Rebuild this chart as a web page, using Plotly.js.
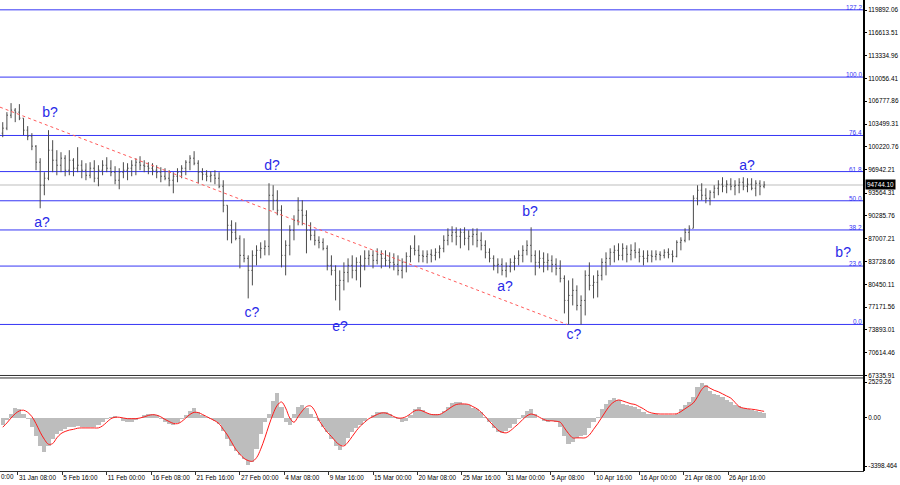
<!DOCTYPE html>
<html>
<head>
<meta charset="utf-8">
<script src="https://cdn.plot.ly/plotly-3.0.1.min.js"></script>
<style>html,body{margin:0;padding:0;background:#fff;}#chart{width:900px;height:485px;}</style>
</head>
<body>
<div id="chart"></div>
<script>
// ---- data (12h bars) ----
const firstBarTime = '2025-01-29T12:00:00Z';
const barStepHours = 12;
const firstOpen = 102180;
const high = [103764,105204,106500,105780,106356,104340,103188,102180,100452,98580,
96564,102612,101172,99732,99444,99012,99732,98580,100164,98292,
97860,98004,98292,97572,98292,98724,98292,97428,97140,98004,
97860,98292,98580,98868,98292,98004,97860,97572,97284,97140,
96852,96564,97140,97572,98292,99012,99588,98292,97140,96852,
96708,96852,96564,95412,91812,89652,89364,87492,87060,84612,
85332,86052,86484,86772,94980,94692,93972,91812,86772,88932,
90372,92964,92532,91092,89364,88212,87348,87060,86052,84612,
83172,82452,83604,84180,84612,84324,84612,85332,85332,85332,
85620,85332,85332,85044,84900,84612,84180,85044,86052,87492,
86052,85332,85332,85476,85620,86052,87492,88500,88788,88644,
88500,88644,88212,88500,88500,87924,86772,85620,84612,84180,
84180,83604,84180,84612,85332,86052,86772,88644,85332,85332,
85044,84900,84612,84180,83892,81732,81012,81300,80292,78852,
82452,83604,81732,82452,84180,85044,85620,86052,86340,86340,
86052,86196,86484,85620,85332,85332,85332,85332,85188,85476,
85620,85332,86772,87204,88500,88932,93252,94692,94980,94260,
93972,94692,95412,95844,95412,95700,95412,95700,95844,95700,
95700,95412,95412,95268];
const low = [101604,102612,104340,103764,104052,101892,101172,99732,96852,91380,
93252,95412,96564,96132,96564,95988,96132,95988,96564,95700,
95412,95700,95124,94548,96132,96564,95988,94836,94116,95700,
95412,95988,96132,96852,96564,96276,96132,95700,95124,95412,
94548,93540,95124,95700,96132,96852,97572,94980,95412,95268,
95124,94836,94260,90804,86772,86340,86772,82740,83604,78420,
80292,83172,84180,84612,84612,91092,90372,82884,81732,84612,
86772,88932,88932,84900,86772,86052,85620,85332,82452,81732,
78132,76692,79572,80724,81300,81012,80004,82452,83172,82740,
83316,82740,83028,82740,82452,81732,81300,82164,83604,84612,
83604,83604,83460,83604,83892,84180,85044,86052,86484,86052,
85620,86052,85332,86052,85764,85332,84180,83604,82452,82020,
81732,81444,82164,82452,83172,83604,84612,83604,81732,82740,
82164,82452,82164,81732,80724,76260,74676,77412,76692,74676,
75972,79572,78420,78564,81012,81732,83172,83604,83892,83892,
83604,83892,84180,83604,83172,83604,83604,83892,83892,84180,
84180,83604,84324,85332,86484,86772,88500,91812,92532,92100,
91812,92820,93252,93684,93540,93972,93252,93540,93972,93684,
93972,93108,93252,94260];
const close = [102900,104772,105492,105204,104340,102612,101748,100308,98004,94692,
95700,99732,98292,97572,98580,96852,98292,97140,97572,96852,
96132,97140,95700,96852,97572,97140,96564,95412,96564,96852,
97140,97572,98004,97572,97428,97140,96852,96564,95988,95700,
95412,95988,96564,97140,98004,98580,97860,96564,96276,95988,
96132,95700,94548,91812,88932,87924,87060,84612,84180,82452,
84612,85332,85620,85908,93252,92532,91092,84612,86052,88212,
89652,91092,90372,88212,87492,86772,86484,85620,83172,82452,
80292,81012,82164,83172,82452,83604,83172,84180,84612,83892,
84756,84180,83892,83604,83316,82452,83604,84468,85620,85332,
84612,84468,84756,84612,85044,85620,86772,87492,87924,87348,
87924,87060,87348,87636,86772,86052,85044,84180,83172,83316,
82452,83028,83604,84180,84612,85332,86052,84612,83604,84180,
83604,83892,83316,82740,81300,78132,78852,79572,77412,78132,
81732,80292,80724,81732,83604,84180,85044,85332,84612,85620,
84756,85332,85044,84468,84180,84612,84468,84756,84612,85044,
84756,84468,86484,86772,87924,88500,92820,93972,93252,92820,
93684,94260,94836,94548,94836,94548,94692,95124,94548,94836,
94260,94980,94548,94744.1];
const macdHist = [-500,-150,300,700,600,250,-100,-600,-1300,-2000,
-2400,-2000,-1500,-1100,-900,-750,-650,-600,-550,-600,
-650,-600,-600,-500,-300,-100,100,150,0,-200,
-250,-250,-150,0,200,300,300,200,-50,-250,
-400,-500,-350,-100,200,500,700,450,200,50,
-100,-200,-400,-900,-1500,-2000,-2300,-2600,-2900,-3300,
-3100,-2200,-1100,-300,300,1200,1760,800,-300,-500,
300,800,900,700,300,100,-200,-600,-1000,-1500,
-2000,-2250,-1900,-1400,-1000,-700,-500,-200,0,200,
450,450,400,250,100,-100,-250,-200,200,650,
750,550,350,250,250,300,500,800,1050,1100,
1100,1000,900,700,600,400,100,-300,-700,-1000,
-1050,-900,-700,-400,-100,200,500,600,300,0,
-200,-250,-200,-300,-600,-1300,-1800,-1700,-1400,-1300,
-1200,-700,-300,100,600,1000,1300,1400,1300,1000,
900,850,800,600,400,300,250,250,200,200,
200,200,300,600,900,1100,1500,2200,2470,2300,
1900,1700,1600,1500,1300,1100,900,850,700,600,
550,500,450,350];
const macdSignal = [-650,-350,0,300,500,550,400,100,-400,-1000,
-1500,-1850,-1800,-1400,-1100,-950,-850,-800,-720,-700,
-700,-700,-700,-700,-550,-300,-50,50,50,0,
-50,-50,-50,0,80,180,230,200,80,-100,
-250,-380,-400,-250,0,250,400,380,250,100,
-50,-200,-400,-800,-1200,-1700,-2200,-2550,-2850,-3000,
-3050,-2800,-2200,-1400,-500,300,900,1130,700,0,
-300,100,500,800,850,500,-150,-600,-1000,-1300,
-1650,-1900,-1970,-1700,-1300,-900,-550,-300,-50,100,
250,350,350,250,100,0,0,100,300,500,
560,480,350,250,230,250,400,600,800,950,
990,990,950,800,650,400,100,-250,-550,-850,
-1000,-1050,-900,-650,-400,-100,150,280,200,50,
-100,-190,-200,-230,-300,-700,-1100,-1400,-1400,-1400,
-1400,-1200,-800,-400,50,500,900,1150,1270,1200,
1100,1000,950,800,650,450,350,300,280,280,
280,280,300,450,650,850,1060,1500,2000,2250,
2100,1950,1850,1700,1550,1400,1100,800,700,650,
620,580,520,470];

const priceTickVals = [119892.06,116613.51,113334.96,110056.41,106777.86,103499.31,100220.76,96942.21,93564.31,90285.76,87007.21,83728.66,80450.11,77171.56,73893.01,70614.46,67335.91];
const priceTickText = ['119892.06','116613.51','113334.96','110056.41','106777.86','103499.31','100220.76','96942.21','93564.31','90285.76','87007.21','83728.66','80450.11','77171.56','73893.01','70614.46','67335.91'];
const macdTickVals = [2529.26, 0, -3398.464];
const macdTickText = ['2529.26','0.00','-3398.464'];
const timeTickVals = ['2025-01-31 08:00','2025-02-05 16:00','2025-02-11 00:00','2025-02-16 08:00','2025-02-21 16:00','2025-02-27 00:00','2025-03-04 08:00','2025-03-09 16:00','2025-03-15 00:00','2025-03-20 08:00','2025-03-25 16:00','2025-03-31 00:00','2025-04-05 08:00','2025-04-10 16:00','2025-04-16 00:00','2025-04-21 08:00','2025-04-26 16:00'];
const timeTickText = ['31 Jan 08:00','5 Feb 16:00','11 Feb 00:00','16 Feb 08:00','21 Feb 16:00','27 Feb 00:00','4 Mar 08:00','9 Mar 16:00','15 Mar 00:00','20 Mar 08:00','25 Mar 16:00','31 Mar 00:00','5 Apr 08:00','10 Apr 16:00','16 Apr 00:00','21 Apr 08:00','26 Apr 16:00'];

const fibLow = 74676, fibHigh = 110244;
const fibLevels = [0, 23.6, 38.2, 50, 61.8, 76.4, 100, 127.2];
const fibTexts = ['0.0','23.6','38.2','50.0','61.8','76.4','100.0','127.2'];

const waveTexts  = ['b?','a?','d?','c?','e?','a?','b?','c?','a?','b?'];
const waveDates  = ['2025-02-04 04:18','2025-02-03 05:12','2025-03-02 20:36','2025-02-28 10:54','2025-03-11 00:48','2025-03-30 20:42','2025-04-02 20:48','2025-04-08 03:42','2025-04-28 22:42','2025-05-10 12:00'];
const wavePrices = [105060, 89220, 97428, 76260, 74244, 80004, 90804, 73092, 97428, 84900];

const trendDates  = ['2025-01-29 04:06','2025-04-07 07:30'];
const trendPrices = [105924, 74676];

const bidPrice = 94744.10;
const xRange = ['2025-01-29 04:06','2025-05-13 00:06'];

// ---- build ----
const t0 = Date.parse(firstBarTime);
const barTimes = close.map((_, i) => new Date(t0 + i*barStepHours*3600000).toISOString().slice(0,16).replace('T',' '));
const open = close.map((c, i) => i === 0 ? firstOpen : close[i-1]);

const FIB_BLUE = '#3535f5';
const LABEL_BLUE = '#2a2ae8';
const FONT = 'Liberation Sans, Arial, sans-serif';
const SMALL = 6.4;

const traces = [
  {type:'scatter', mode:'lines', x:trendDates, y:trendPrices, xaxis:'x', yaxis:'y',
   line:{color:'#ff5a5a', width:1, dash:'dot'}, hoverinfo:'skip'},
  {type:'ohlc', x:barTimes, open:open, high:high, low:low, close:close, xaxis:'x', yaxis:'y',
   increasing:{line:{color:'#4a4a4a', width:1}}, decreasing:{line:{color:'#4a4a4a', width:1}},
   tickwidth:0.25, hoverinfo:'skip'},
  {type:'scatter', mode:'text', x:waveDates, y:wavePrices, text:waveTexts, xaxis:'x', yaxis:'y',
   textposition:'middle center', textfont:{family:FONT, size:14, color:LABEL_BLUE}, hoverinfo:'skip', cliponaxis:false},
  {type:'bar', x:barTimes, y:macdHist, xaxis:'x', yaxis:'y2', width:barStepHours*3600000,
   marker:{color:'#bdbdbd', line:{width:0}}, hoverinfo:'skip'},
  {type:'scatter', mode:'lines', x:barTimes, y:macdSignal, xaxis:'x', yaxis:'y2',
   line:{color:'#ff1a1a', width:1, shape:'spline'}, hoverinfo:'skip'}
];

const shapes = [];
const annotations = [];
fibLevels.forEach((lv, i) => {
  const p = fibLow + (fibHigh - fibLow) * lv / 100;
  shapes.push({type:'line', xref:'paper', x0:0, x1:1, yref:'y', y0:p, y1:p, line:{color:FIB_BLUE, width:1}, layer:'below'});
  annotations.push({xref:'paper', x:1, xanchor:'right', xshift:-1, yref:'y', y:p, yanchor:'bottom', yshift:-2,
    text:fibTexts[i], showarrow:false, font:{family:FONT, size:SMALL, color:FIB_BLUE}, borderpad:0});
});
shapes.push({type:'line', xref:'paper', x0:0, x1:1, yref:'y', y0:bidPrice, y1:bidPrice, line:{color:'#d3d3d3', width:1.5}, layer:'below'});
shapes.push({type:'line', xref:'paper', x0:0, x1:1, yref:'paper', y0:0.2028, y1:0.2028, line:{color:'#333', width:1}});
shapes.push({type:'line', xref:'paper', x0:0, x1:1, yref:'paper', y0:0.1975, y1:0.1975, line:{color:'#333', width:1}});
shapes.push({type:'line', xref:'paper', x0:1, x1:1, yref:'paper', y0:0, y1:1, line:{color:'#000', width:2}});

annotations.push({xref:'paper', x:1, xanchor:'left', xshift:1, yref:'y', y:bidPrice, yanchor:'middle',
  text:'94744.10', showarrow:false, font:{family:FONT, size:SMALL, color:'#ffffff'}, bgcolor:'#000000', borderpad:1});
annotations.push({xref:'paper', x:0, xanchor:'left', yref:'paper', y:-0.0125, yanchor:'middle',
  text:'0:00', showarrow:false, font:{family:FONT, size:SMALL, color:'#000'}, borderpad:0});

const layout = {
  width:900, height:485,
  margin:{l:0, r:36, t:0, b:14, pad:0},
  paper_bgcolor:'#ffffff', plot_bgcolor:'#ffffff',
  showlegend:false, hovermode:false, bargap:0,
  font:{family:FONT, size:SMALL, color:'#000'},
  xaxis:{type:'date', range:xRange, anchor:'y2', rangeslider:{visible:false},
    showgrid:false, zeroline:false, showline:true, linecolor:'#333', linewidth:1,
    tickmode:'array', tickvals:timeTickVals, ticktext:timeTickText, tickangle:0,
    ticks:'outside', ticklen:3, tickcolor:'#333', ticklabelposition:'outside right',
    tickfont:{family:FONT, size:SMALL, color:'#000'}},
  yaxis:{domain:[0.2028,1], range:[67335.91,121332], side:'right', anchor:'x',
    showgrid:false, zeroline:false, showline:false,
    tickmode:'array', tickvals:priceTickVals, ticktext:priceTickText,
    ticks:'outside', ticklen:2, tickcolor:'#000', tickfont:{family:FONT, size:SMALL, color:'#000'}},
  yaxis2:{domain:[0,0.1975], range:[-3736,2820], side:'right', anchor:'x',
    showgrid:false, zeroline:false, showline:false,
    tickmode:'array', tickvals:macdTickVals, ticktext:macdTickText,
    ticks:'outside', ticklen:2, tickcolor:'#000', tickfont:{family:FONT, size:SMALL, color:'#000'}},
  shapes:shapes, annotations:annotations
};

Plotly.newPlot('chart', traces, layout, {staticPlot:true, displayModeBar:false});
</script>
</body>
</html>
